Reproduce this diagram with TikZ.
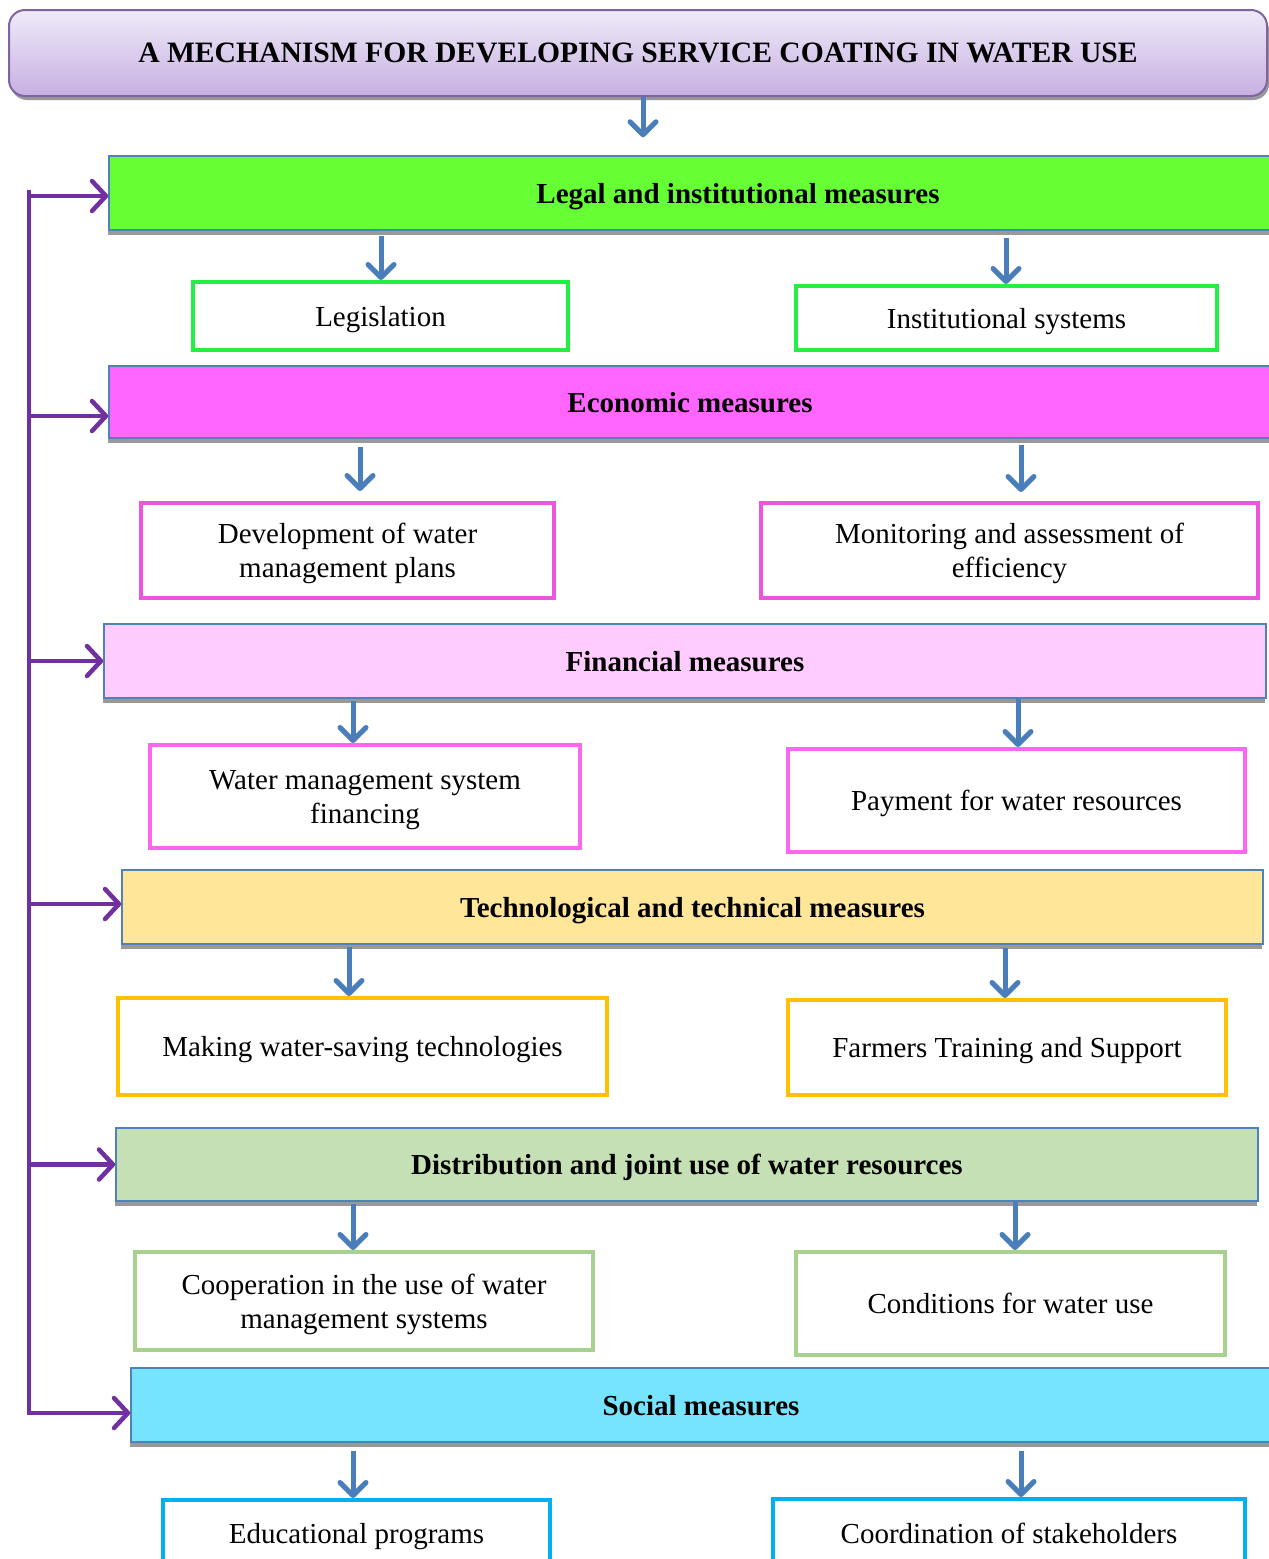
\documentclass[tikz,border=0pt]{standalone}
\usepackage{fontspec}
\setmainfont{Liberation Serif}
\usetikzlibrary{arrows.meta,positioning,calc}

\definecolor{downblue}{HTML}{4A7EBB}
\definecolor{feedpurple}{HTML}{7030A0}
\definecolor{bandline}{HTML}{4F81BD}
\definecolor{titletop}{HTML}{EFEAF8}
\definecolor{titlebot}{HTML}{C7B0E2}
\definecolor{titleline}{HTML}{8064A2}
\definecolor{legalfill}{HTML}{66FF33}
\definecolor{legalline}{HTML}{22EE44}
\definecolor{ecofill}{HTML}{FF66FF}
\definecolor{ecoline}{HTML}{EE55DD}
\definecolor{finfill}{HTML}{FFCCFF}
\definecolor{finline}{HTML}{FF66EE}
\definecolor{techfill}{HTML}{FFE699}
\definecolor{techline}{HTML}{FFC000}
\definecolor{distfill}{HTML}{C5E0B4}
\definecolor{distline}{HTML}{A9D18E}
\definecolor{socfill}{HTML}{77E4FD}
\definecolor{socline}{HTML}{00B0F0}

\tikzset{
  band/.style={draw=bandline,line width=1.5pt,inner sep=0pt,text depth=0pt,
    font=\fontsize{29}{34}\selectfont\bfseries,
    preaction={fill=black!40,transform canvas={shift={(-1pt,-5pt)}}}},
  item/.style={draw,line width=4pt,fill=white,align=center,inner sep=0pt,text depth=0pt,
    font=\fontsize{29}{34}\selectfont},
  down/.style={draw=downblue,line width=5pt,-{Straight Barb[length=13pt,width=26pt,round]}},
  feed/.style={draw=feedpurple,line width=4.5pt,-{Straight Barb[length=14pt,width=30pt,round]}}
}

\begin{document}
\begin{tikzpicture}[x=1pt,y=-1pt]
  \useasboundingbox (0,0) rectangle (1269,1559);
  \clip (0,0) rectangle (1269,1559);
  \fill[white] (0,0) rectangle (1269,1559);

  \node[draw=titleline,line width=2pt,rounded corners=16pt,top color=titletop,bottom color=titlebot,
    minimum width=1258pt,minimum height=86pt,inner sep=0pt,font=\fontsize{29.6}{34}\selectfont\bfseries,
    preaction={fill=black!40,transform canvas={shift={(2pt,-4pt)}}}] (title) at (638,53)
    {A MECHANISM FOR DEVELOPING SERVICE COATING IN WATER USE};

  \node[band,fill=legalfill,minimum width=1258pt,minimum height=74pt] (legal) at (738,193) {Legal and institutional measures};
  \node[band,fill=ecofill,minimum width=1162pt,minimum height=72pt] (eco) at (690,402) {Economic measures};
  \node[band,fill=finfill,minimum width=1162pt,minimum height=74pt] (fin) at (685,661) {Financial measures};
  \node[band,fill=techfill,minimum width=1141pt,minimum height=74pt] (tech) at (692.5,907) {Technological and technical measures};
  \node[band,fill=distfill,minimum width=1142pt,minimum height=73pt] (dist) at (687,1164.5) {Distribution and joint use of water resources};
  \node[band,fill=socfill,minimum width=1140pt,minimum height=74pt] (soc) at (701,1405) {Social measures};

  \node[item,draw=legalline,minimum width=375pt,minimum height=68pt] (legis) at (380.5,316) {Legislation};
  \node[item,draw=legalline,minimum width=421pt,minimum height=64pt] (inst) at (1006.5,318) {Institutional systems};
  \node[item,draw=ecoline,minimum width=413pt,minimum height=95pt] (plans) at (347.5,550.5) {Development of water\\management plans};
  \node[item,draw=ecoline,minimum width=497pt,minimum height=95pt] (monit) at (1009.5,550.5) {Monitoring and assessment of\\efficiency};
  \node[item,draw=finline,minimum width=430pt,minimum height=103pt] (wmsf) at (365,796.5) {Water management system\\financing};
  \node[item,draw=finline,minimum width=457pt,minimum height=103pt] (pay) at (1016.5,800.5) {Payment for water resources};
  \node[item,draw=techline,minimum width=489pt,minimum height=97pt] (saving) at (362.5,1046.5) {Making water-saving technologies};
  \node[item,draw=techline,minimum width=438pt,minimum height=95pt] (farm) at (1007,1047.5) {Farmers Training and Support};
  \node[item,draw=distline,minimum width=458pt,minimum height=98pt] (coop) at (364,1301) {Cooperation in the use of water\\management systems};
  \node[item,draw=distline,minimum width=429pt,minimum height=103pt] (cond) at (1010.5,1303.5) {Conditions for water use};
  \node[item,draw=socline,minimum width=387pt,minimum height=66pt] (edu) at (356.5,1533) {Educational programs};
  \node[item,draw=socline,minimum width=472pt,minimum height=68pt] (stake) at (1009,1533) {Coordination of stakeholders};

  \draw[down,shorten >=18pt] (title.south -| 643,0) -- (legal.north -| 643,0);
  \draw[down,shorten <=5pt] (legal.south -| 381,0) -- (legis.north -| 381,0);
  \draw[down,shorten <=7pt] (legal.south -| 1006,0) -- (inst.north -| 1006,0);
  \draw[down,shorten <=8pt,shorten >=10pt] (eco.south -| 360,0) -- (plans.north -| 360,0);
  \draw[down,shorten <=6pt,shorten >=9pt] (eco.south -| 1021,0) -- (monit.north -| 1021,0);
  \draw[down,shorten <=2pt] (fin.south -| 353,0) -- (wmsf.north -| 353,0);
  \draw[down] (fin.south -| 1018,0) -- (pay.north -| 1018,0);
  \draw[down,shorten <=2pt] (tech.south -| 349,0) -- (saving.north -| 349,0);
  \draw[down,shorten <=3pt] (tech.south -| 1005,0) -- (farm.north -| 1005,0);
  \draw[down,shorten <=2pt] (dist.south -| 353,0) -- (coop.north -| 353,0);
  \draw[down] (dist.south -| 1015,0) -- (cond.north -| 1015,0);
  \draw[down,shorten <=8pt] (soc.south -| 353,0) -- (edu.north -| 353,0);
  \draw[down,shorten <=8pt] (soc.south -| 1021,0) -- (stake.north -| 1021,0);

  \coordinate (spine) at (29,0);
  \draw[feed] ([yshift=3pt]legal.west -| spine) |- ([yshift=-8pt]soc.west);
  \draw[feed] ([yshift=-3pt]legal.west -| spine) -- ([yshift=-3pt]legal.west);
  \draw[feed] ([yshift=-14pt]eco.west -| spine) -- ([yshift=-14pt]eco.west);
  \draw[feed] (fin.west -| spine) -- (fin.west);
  \draw[feed] ([yshift=3pt]tech.west -| spine) -- ([yshift=3pt]tech.west);
  \draw[feed] (dist.west -| spine) -- (dist.west);
\end{tikzpicture}
\end{document}
